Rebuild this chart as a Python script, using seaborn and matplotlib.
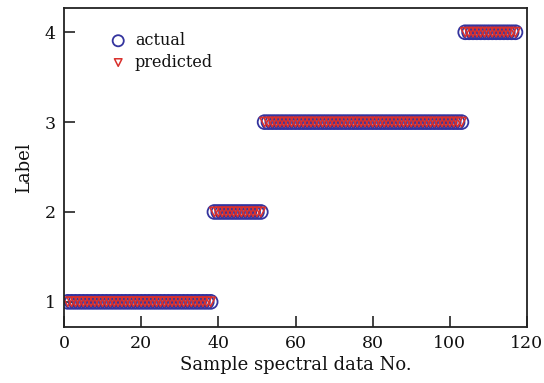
import matplotlib
matplotlib.use("Agg")
import matplotlib.pyplot as plt
import seaborn as sns
import numpy as np
import pandas as pd

# Data: sample numbers per class block and labels
class_labels = [1, 2, 3, 4]
class_start = [1, 39, 52, 104]
class_end = [38, 51, 103, 117]

sample_no = []
actual = []
for lab, s, e in zip(class_labels, class_start, class_end):
    for i in range(s, e + 1):
        sample_no.append(i)
        actual.append(lab)
predicted = list(actual)

df = pd.DataFrame({"no": sample_no, "actual": actual, "predicted": predicted})

sns.set_theme(style="ticks")
plt.rcParams["font.family"] = ["DejaVu Serif"]
plt.rcParams["mathtext.fontset"] = "dejavuserif"
plt.rcParams["text.color"] = "#111111"
plt.rcParams["axes.labelcolor"] = "#111111"

fig = plt.figure(figsize=(5.44, 3.83), dpi=100)
ax = fig.add_axes([64 / 544, 1 - 327 / 383, (527 - 64) / 544, (327 - 8) / 383])

blue = "#34349e"
red = "#d9302c"
sns.scatterplot(data=df, x="no", y="actual", ax=ax, marker="o", s=100,
                facecolors="none", edgecolors=blue, linewidth=1.3, label="actual")
sns.scatterplot(data=df, x="no", y="predicted", ax=ax, marker="v", s=46,
                facecolors="none", edgecolors=red, linewidth=1.1, label="predicted")

ax.set_xlim(0, 120)
ax.set_ylim(0.72, 4.27)
ax.set_xticks([0, 20, 40, 60, 80, 100, 120])
ax.set_yticks([1, 2, 3, 4])
ax.set_xlabel("Sample spectral data No.", fontsize=13, labelpad=3)
ax.set_ylabel("Label", fontsize=13, labelpad=8)
ax.tick_params(direction="in", length=8, width=1.1, labelsize=12.5, colors="#111111",
               top=False, right=False, pad=6)
for sp in ax.spines.values():
    sp.set_linewidth(1.3)
    sp.set_color("#222222")
    sp.set_visible(True)

leg = ax.legend(loc="upper left", bbox_to_anchor=(0.055, 0.965), frameon=False,
                fontsize=11.5, handletextpad=0.05, labelspacing=0.3, borderpad=0.3,
                markerscale=0.8)

fig.savefig("out.png", dpi=100)
